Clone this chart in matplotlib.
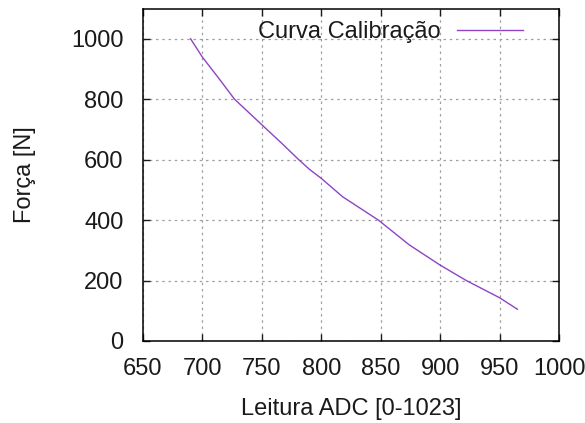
#!/usr/bin/env python3

import matplotlib
matplotlib.use('Agg')
import matplotlib.pyplot as plt
import numpy as np

plt.rcParams['font.family'] = ['Liberation Sans', 'DejaVu Sans']

# leitura ADC vs forca
adc = [690, 700, 713, 727, 752, 767, 781, 790, 800, 818, 848, 874, 900, 922, 950, 965]
forca = [1000, 939, 873, 800, 708, 653, 600, 568, 538, 477, 400, 318, 251, 200, 143, 105]

x_ticks = np.arange(650, 1001, 50)
y_ticks = np.arange(0, 1001, 200)

fig = plt.figure(figsize=(5.85, 4.23), dpi=100)
ax = fig.add_axes([0.2444, 0.1939, 0.7112, 0.786])

ax.plot(adc, forca, color='#8e44c4', lw=1.0, label='Curva Calibração')

ax.set_xlim(650, 1000)
ax.set_ylim(0, 1100)
ax.set_xticks(x_ticks)
ax.set_yticks(y_ticks)
ax.tick_params(direction='in', length=5, width=1, top=True, right=True,
               labelsize=17, colors='#1a1a1a')
ax.tick_params(axis='x', pad=12)
ax.tick_params(axis='y', pad=14)
ax.grid(True, color='#a0a0a0', linestyle=(0, (2, 3)), lw=0.9)
for s in ax.spines.values():
    s.set_linewidth(1.1)

ax.set_xlabel('Leitura ADC [0-1023]', fontsize=17, labelpad=13, color='#1a1a1a')
ax.set_ylabel('Força [N]', fontsize=17, labelpad=25, color='#1a1a1a')

ax.legend(loc='upper right', bbox_to_anchor=(0.965, 1.025), frameon=False,
          markerfirst=False, fontsize=17, handlelength=2.8, handletextpad=0.7,
          labelcolor='#1a1a1a')

plt.savefig('out.png', dpi=100)
